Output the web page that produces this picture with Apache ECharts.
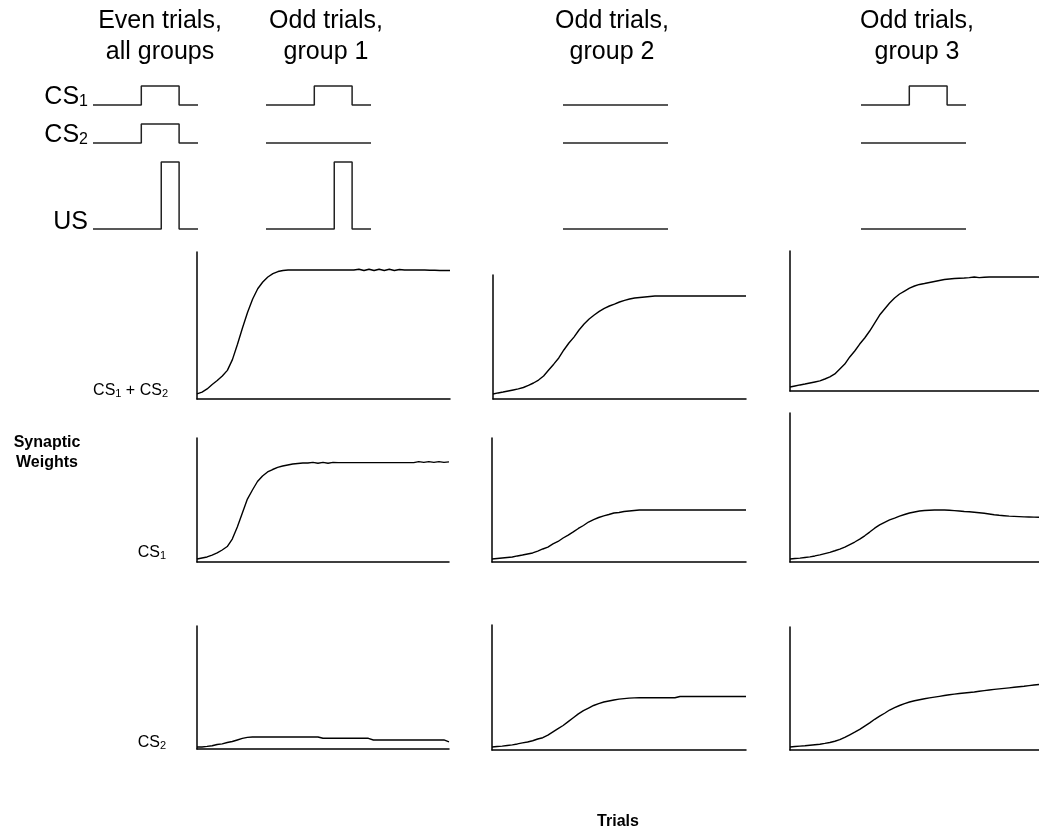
<!DOCTYPE html>
<html>
<head>
<meta charset="utf-8">
<script src="https://cdn.jsdelivr.net/npm/echarts@6/dist/echarts.min.js"></script>
<style>
  html, body { margin: 0; padding: 0; background: #fff; }
  #chart { width: 1039px; height: 834px; }
</style>
</head>
<body>
<div id="chart"></div>
<script>
// ---- Stimulus schedule (time within a trial, 0..100) ----
const trialStart = 0;
const csOnset = 46;
const usOnset = 65;
const stimOffset = 82;
const trialEnd = 100;

const columnTitles = ['Even trials,\nall groups', 'Odd trials,\ngroup 1', 'Odd trials,\ngroup 2', 'Odd trials,\ngroup 3'];
const cs1Given = [1, 1, 0, 1];
const cs2Given = [1, 0, 0, 0];
const usGiven  = [1, 1, 0, 0];

// ---- Synaptic weights across trials ----
const trials = [0,2,4,6,8,10,12,14,16,18,20,22,24,26,28,30,32,34,36,38,40,42,44,46,48,50,
                52,54,56,58,60,62,64,66,68,70,72,74,76,78,80,82,84,86,88,90,92,94,96,98,100];

// CS1 + CS2
const sumGroup1 = [0.039,0.054,0.078,0.112,0.143,0.178,0.222,0.305,0.425,0.552,0.672,0.775,0.855,0.907,0.946,0.972,0.988,
                   0.996,1.000,1.000,1.000,1.000,1.000,1.000,1.000,1.000,1.000,1.000,1.000,1.000,1.000,1.000,
                   1.006,0.996,1.006,0.996,1.006,0.996,1.006,0.996,1.004,
                   1.000,1.000,1.000,1.000,1.000,0.998,0.998,0.996,0.996,0.996];
const sumGroup2 = [0.039,0.047,0.054,0.062,0.070,0.078,0.089,0.105,0.124,0.147,0.178,0.225,0.270,0.318,0.380,0.434,
                   0.480,0.535,0.581,0.620,0.651,0.679,0.703,0.721,0.736,0.752,0.764,0.775,0.783,0.787,0.791,0.795,
                   0.798,0.798,0.798,0.798,0.798,0.798,0.798,0.798,0.798,0.798,0.798,0.798,0.798,0.798,0.798,0.798,0.798,0.798,0.798];
const sumGroup3 = [0.031,0.039,0.047,0.054,0.062,0.070,0.078,0.093,0.109,0.132,0.171,0.209,0.264,0.310,0.364,0.411,
                   0.465,0.527,0.589,0.636,0.682,0.721,0.752,0.775,0.798,0.814,0.826,0.833,0.841,0.849,0.857,0.864,
                   0.868,0.872,0.874,0.876,0.879,0.884,0.879,0.882,
                   0.884,0.884,0.884,0.884,0.884,0.884,0.884,0.884,0.884,0.884,0.884];

// CS1
const cs1Group1 = [0.023,0.031,0.039,0.054,0.070,0.093,0.120,0.178,0.271,0.380,0.488,0.558,0.624,0.667,0.698,0.717,
                   0.733,0.744,0.752,0.760,0.764,0.767,0.767,
                   0.772,0.766,0.772,0.766,0.772,0.770,
                   0.770,0.770,0.770,0.770,0.770,0.770,0.770,0.770,0.770,0.770,0.770,0.770,0.770,0.770,0.770,
                   0.778,0.772,0.778,0.772,0.778,0.772,0.776];
const cs1Group2 = [0.023,0.027,0.031,0.035,0.039,0.047,0.054,0.062,0.070,0.085,0.101,0.116,0.140,0.159,0.186,0.209,
                   0.233,0.260,0.283,0.310,0.329,0.345,0.357,0.368,0.380,0.384,0.391,0.395,0.399,0.403,
                   0.403,0.403,0.403,0.403,0.403,0.403,0.403,0.403,0.403,0.403,0.403,0.403,0.403,0.403,0.403,0.403,0.403,0.403,0.403,0.403,0.403];
const cs1Group3 = [0.023,0.027,0.030,0.035,0.040,0.047,0.055,0.065,0.075,0.087,0.100,0.115,0.135,0.155,0.177,0.203,
                   0.232,0.262,0.288,0.308,0.326,0.340,0.355,0.368,0.380,0.388,0.395,0.399,0.401,0.403,0.403,0.403,
                   0.401,0.398,0.395,0.392,0.390,0.386,0.382,0.378,0.372,0.366,0.362,0.359,0.356,0.354,0.352,0.350,
                   0.349,0.348,0.347];

// CS2
const cs2Group1 = [0.016,0.016,0.020,0.025,0.035,0.040,0.050,0.058,0.070,0.082,0.090,0.093,
                   0.093,0.093,0.093,0.093,0.093,0.093,0.093,0.093,0.093,0.093,0.093,0.093,0.093,
                   0.083,0.083,0.083,0.083,0.083,0.083,0.083,0.083,0.083,0.083,
                   0.070,0.070,0.070,0.070,0.070,0.070,0.070,0.070,0.070,0.070,0.070,0.070,0.070,0.070,0.070,
                   0.055];
const cs2Group2 = [0.023,0.027,0.030,0.035,0.040,0.047,0.055,0.062,0.072,0.085,0.095,0.115,0.140,0.165,0.190,0.220,
                   0.250,0.280,0.305,0.325,0.345,0.360,0.372,0.380,0.388,0.394,0.398,0.402,0.404,
                   0.405,0.405,0.405,0.405,0.405,0.405,0.405,0.405,
                   0.415,0.415,0.415,0.415,0.415,0.415,0.415,0.415,0.415,0.415,0.415,0.415,0.415,0.415];
const cs2Group3 = [0.023,0.027,0.030,0.033,0.037,0.041,0.045,0.051,0.058,0.068,0.080,0.098,0.118,0.138,0.160,0.185,
                   0.210,0.238,0.262,0.285,0.310,0.328,0.345,0.360,0.372,0.382,0.390,0.397,0.404,0.410,0.416,0.422,
                   0.428,0.433,0.438,0.442,0.446,0.450,0.455,0.460,0.465,0.470,0.474,0.478,0.482,0.486,0.490,0.494,
                   0.499,0.504,0.508];

const weightRows = [
  [sumGroup1, sumGroup2, sumGroup3],
  [cs1Group1, cs1Group2, cs1Group3],
  [cs2Group1, cs2Group2, cs2Group3]
];

// ---- Layout ----
const FONT = '"Liberation Sans", Arial, Helvetica, sans-serif';
const INK = '#000';
const PX_PER_UNIT = 129;               // vertical pixels per weight unit, shared by all panels

// panel boxes: [left, top, width, height]
const panelBoxes = [
  [[197, 252, 253, 147], [493, 275, 253, 124], [790, 251, 249, 140]],
  [[197, 438, 252, 124], [492, 438, 254, 124], [790, 413, 249, 149]],
  [[197, 626, 252, 123], [492, 625, 254, 125], [790, 627, 249, 123]]
];

const schematicLeft = [93, 266, 563, 861];
const schematicWidth = 105;
const schematicRows = [ // [top, height]
  [86, 19], [124, 19], [162, 67]
];
const titleCenters = [160, 326, 612, 917];

function pulse(on, present) {
  if (!present) return [[trialStart, 0], [trialEnd, 0]];
  return [[trialStart, 0], [on, 0], [on, 1], [stimOffset, 1], [stimOffset, 0], [trialEnd, 0]];
}

const grid = [], xAxis = [], yAxis = [], series = [];

// stimulus waveforms
const given = [cs1Given, cs2Given, usGiven];
const onsets = [csOnset, csOnset, usOnset];
for (let g = 0; g < 4; g++) {
  for (let r = 0; r < 3; r++) {
    const idx = grid.length;
    grid.push({ left: schematicLeft[g], top: schematicRows[r][0], width: schematicWidth, height: schematicRows[r][1] });
    xAxis.push({ gridIndex: idx, type: 'value', min: trialStart, max: trialEnd, show: false });
    yAxis.push({ gridIndex: idx, type: 'value', min: 0, max: 1, show: false });
    series.push({
      type: 'line', xAxisIndex: idx, yAxisIndex: idx,
      data: pulse(onsets[r], given[r][g]),
      symbol: 'none', clip: false, silent: true,
      lineStyle: { color: '#222', width: 1.5 }
    });
  }
}

// weight panels
for (let r = 0; r < 3; r++) {
  for (let c = 0; c < 3; c++) {
    const [l, t, w, h] = panelBoxes[r][c];
    const idx = grid.length;
    grid.push({ left: l, top: t, width: w, height: h });
    const axisCommon = {
      gridIndex: idx, type: 'value',
      axisLine: { show: true, onZero: false, lineStyle: { color: INK, width: 1.5 } },
      axisTick: { show: false }, axisLabel: { show: false }, splitLine: { show: false }
    };
    xAxis.push(Object.assign({}, axisCommon, { min: trials[0], max: trials[trials.length - 1] }));
    yAxis.push(Object.assign({}, axisCommon, { min: 0, max: h / PX_PER_UNIT }));
    const vals = weightRows[r][c];
    series.push({
      type: 'line', xAxisIndex: idx, yAxisIndex: idx,
      data: trials.map((tr, i) => [tr, vals[i]]),
      symbol: 'none', clip: false, silent: true,
      lineStyle: { color: INK, width: 1.4 }
    });
  }
}

// ---- Text ----
function subRich(mainSize, subSize, mainLH, subLH) {
  return {
    m: { fontSize: mainSize, fontFamily: FONT, fill: INK, lineHeight: mainLH, verticalAlign: 'bottom' },
    s: { fontSize: subSize, fontFamily: FONT, fill: INK, lineHeight: subLH, verticalAlign: 'bottom' }
  };
}
const graphic = [];
columnTitles.forEach((txt, i) => {
  graphic.push({
    type: 'text', x: titleCenters[i], y: 6,
    style: { text: txt, fontSize: 25, fontFamily: FONT, fill: INK, align: 'center', verticalAlign: 'top', lineHeight: 31 }
  });
});
const bigRich = subRich(25, 16, 28, 16);
[['{m|CS}{s|1}', 96], ['{m|CS}{s|2}', 134], ['{m|US}', 221]].forEach(([txt, y]) => {
  graphic.push({ type: 'text', x: 88, y: y,
    style: { text: txt, align: 'right', verticalAlign: 'middle', rich: bigRich, fontSize: 25, fontFamily: FONT, fill: INK } });
});
const smallRich = subRich(16, 11, 18, 12);
[['{m|CS}{s|1}{m| + CS}{s|2}', 168, 390], ['{m|CS}{s|1}', 166, 552], ['{m|CS}{s|2}', 166, 742]].forEach(([txt, x, y]) => {
  graphic.push({ type: 'text', x: x, y: y,
    style: { text: txt, align: 'right', verticalAlign: 'middle', rich: smallRich, fontSize: 16, fontFamily: FONT, fill: INK } });
});
graphic.push({ type: 'text', x: 47, y: 453,
  style: { text: 'Synaptic\nWeights', align: 'center', verticalAlign: 'middle', lineHeight: 20,
           fontSize: 16, fontWeight: 'bold', fontFamily: FONT, fill: INK } });
graphic.push({ type: 'text', x: 618, y: 822,
  style: { text: 'Trials', align: 'center', verticalAlign: 'middle',
           fontSize: 16, fontWeight: 'bold', fontFamily: FONT, fill: INK } });

const chart = echarts.init(document.getElementById('chart'), null, { renderer: 'canvas' });
chart.setOption({
  animation: false,
  backgroundColor: '#fff',
  grid, xAxis, yAxis, series, graphic
});
</script>
</body>
</html>
